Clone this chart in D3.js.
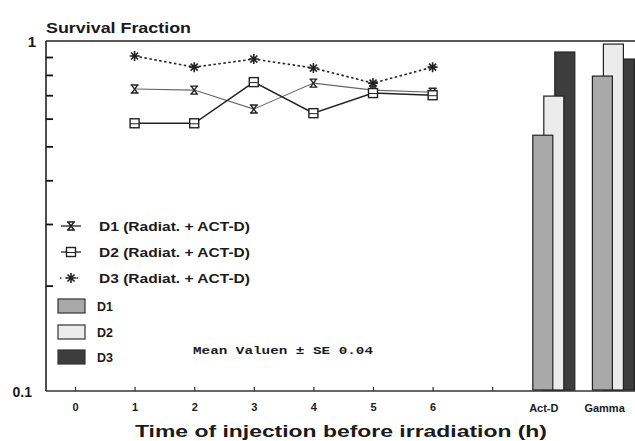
<!DOCTYPE html>
<html><head><meta charset="utf-8">
<script src="https://cdn.jsdelivr.net/npm/d3@7"></script>
<style>body{margin:0;background:#fff}svg{display:block}text{font-family:"Liberation Sans",Arial,sans-serif;font-weight:bold;fill:#1a1a1a}</style>
</head><body><svg id="c" width="635" height="441"></svg>
<script>
const hours = [1, 2, 3, 4, 5, 6];
const xTickLabels = ["0", "1", "2", "3", "4", "5", "6", ""];
const d1Line = [0.729, 0.724, 0.639, 0.758, 0.724, 0.714];
const d2Line = [0.582, 0.582, 0.763, 0.622, 0.710, 0.700];
const d3Line = [0.906, 0.842, 0.888, 0.837, 0.758, 0.842];
const barGroups = ["Act-D", "Gamma"];
const barD1 = [0.538, 0.794];
const barD2 = [0.696, 0.980];
const barD3 = [0.930, 0.888];
const yTicks = [0.2, 0.3, 0.4, 0.5, 0.6, 0.7, 0.8, 0.9];

const svg = d3.select("#c");
const x = d3.scaleLinear().domain([0, 9]).range([75, 611.4]);
const y = d3.scaleLog().domain([0.1, 1]).range([391, 41]);

// frame
svg.append("line").attr("x1",46).attr("x2",635).attr("y1",41).attr("y2",41).attr("stroke","#222").attr("stroke-width",1.6);
// bottom axis
const xAxis = d3.axisBottom(x).tickValues(d3.range(0, 8)).tickSize(-4).tickFormat(d => xTickLabels[d]);
const gx = svg.append("g").attr("transform","translate(0,391)").call(xAxis);
gx.select(".domain").attr("d","M46,0H635").attr("stroke","#333").attr("stroke-width",1.4);
gx.selectAll(".tick line").attr("stroke","#333").attr("stroke-width",1.2);
gx.selectAll(".tick text").attr("y",12).attr("dy","0.71em").style("font-size","11px").style("font-family","Liberation Sans, Arial").style("font-weight","bold").attr("fill","#1a1a1a");
// left axis
const yAxis = d3.axisRight(y).tickValues(yTicks).tickSize(7).tickFormat("");
const gy = svg.append("g").attr("transform","translate(46,0)").call(yAxis);
gy.select(".domain").attr("d","M0,41V391").attr("stroke","#222").attr("stroke-width",1.6);
gy.selectAll(".tick line").attr("stroke","#111").attr("stroke-width",1.8);
svg.append("text").attr("x",36).attr("y",y(1)+6).attr("text-anchor","end").style("font-size","15px").text("1");
svg.append("text").attr("x",32).attr("y",y(0.1)+6).attr("text-anchor","end").style("font-size","14px").text("0.1");

// bars
const fills = ["#a9a9a9", "#ececec", "#3d3d3d"];
const barSets = [barD3, barD2, barD1];
const offsets = [3, -8, -19];
const fillIdx = [2, 1, 0];
barSets.forEach((vals, k) => {
  svg.selectAll(null).data(vals).join("rect")
    .attr("x", (d, i) => x(8 + i) + offsets[k])
    .attr("y", d => y(d))
    .attr("width", 20)
    .attr("height", d => y(0.1) - y(d) - 1)
    .attr("fill", fills[fillIdx[k]])
    .attr("stroke", "#222").attr("stroke-width", 1.2);
});
svg.selectAll(null).data(barGroups).join("text")
  .attr("x", (d, i) => i === 0 ? x(8) - 8 : x(9) - 27)
  .attr("y", 412).attr("text-anchor", (d, i) => i === 0 ? "middle" : "start")
  .style("font-size","11px").text(d => d);

// lines
const line = d3.line().x((d, i) => x(hours[i])).y(d => y(d));
svg.append("path").attr("d", line(d1Line)).attr("fill","none").attr("stroke","#666").attr("stroke-width",1.1);
svg.append("path").attr("d", line(d2Line)).attr("fill","none").attr("stroke","#222").attr("stroke-width",1.5);
svg.append("path").attr("d", line(d3Line)).attr("fill","none").attr("stroke","#222").attr("stroke-width",1.6).attr("stroke-dasharray","2.5,2.5");

function hourglass(g, cx, cy) {
  g.append("path").attr("d", `M${cx-4},${cy-4}H${cx+4}M${cx-4},${cy+4}H${cx+4}M${cx-3},${cy-4}L${cx+3},${cy+4}M${cx+3},${cy-4}L${cx-3},${cy+4}`)
    .attr("stroke","#222").attr("stroke-width",1.4).attr("fill","none");
}
function square(g, cx, cy) {
  g.append("rect").attr("x",cx-4.5).attr("y",cy-4.5).attr("width",9).attr("height",9).attr("fill","#fff").attr("stroke","#222").attr("stroke-width",1.4);
  g.append("line").attr("x1",cx-4.5).attr("x2",cx+4.5).attr("y1",cy+0.5).attr("y2",cy+0.5).attr("stroke","#222").attr("stroke-width",1);
}
function star(g, cx, cy) {
  let p = "";
  for (let a = 0; a < 4; a++) {
    const t = a * Math.PI / 4;
    p += `M${cx - 5*Math.cos(t)},${cy - 5*Math.sin(t)}L${cx + 5*Math.cos(t)},${cy + 5*Math.sin(t)}`;
  }
  g.append("path").attr("d", p).attr("stroke","#222").attr("stroke-width",1.6);
}
const mg = svg.append("g");
d3.zip(hours, d1Line).forEach(([h, v]) => hourglass(mg, x(h), y(v)));
d3.zip(hours, d2Line).forEach(([h, v]) => square(mg, x(h), y(v)));
d3.zip(hours, d3Line).forEach(([h, v]) => star(mg, x(h), y(v)));

// legend
const lg = svg.append("g");
const legLines = [
  {label:"D1 (Radiat. + ACT-D)", y:226, kind:"hg"},
  {label:"D2 (Radiat. + ACT-D)", y:252, kind:"sq"},
  {label:"D3 (Radiat. + ACT-D)", y:278, kind:"st"}
];
legLines.forEach(d => {
  if (d.kind === "st") {
    lg.append("line").attr("x1",60).attr("x2",82).attr("y1",d.y).attr("y2",d.y).attr("stroke","#222").attr("stroke-width",1.4).attr("stroke-dasharray","1.5,4");
    star(lg, 71, d.y);
  } else {
    lg.append("line").attr("x1",61).attr("x2",81).attr("y1",d.y).attr("y2",d.y).attr("stroke","#222").attr("stroke-width",1.3);
    if (d.kind === "hg") hourglass(lg, 71, d.y); else square(lg, 71, d.y);
  }
  lg.append("text").attr("x",99).attr("y",d.y+5).attr("textLength",151).attr("lengthAdjust","spacingAndGlyphs").style("font-size","12.5px").text(d.label);
});
const legBars = [{label:"D1", y:306, f:0},{label:"D2", y:332, f:1},{label:"D3", y:357, f:2}];
legBars.forEach(d => {
  lg.append("rect").attr("x",58).attr("y",d.y-7).attr("width",27).attr("height",14).attr("fill",fills[d.f]).attr("stroke","#333").attr("stroke-width",1.2);
  lg.append("text").attr("x",97).attr("y",d.y+5).style("font-size","12.5px").text(d.label);
});
svg.append("text").attr("x",193).attr("y",354).attr("textLength",180).attr("lengthAdjust","spacingAndGlyphs")
  .style("font-family","Liberation Mono, monospace").style("font-size","10px").text("Mean Valuen \u00B1 SE  0.04");

// titles
svg.append("text").attr("x",46).attr("y",33).attr("textLength",145).attr("lengthAdjust","spacingAndGlyphs").style("font-size","15.5px").text("Survival Fraction");
svg.append("text").attr("x",341).attr("y",437).attr("text-anchor","middle").attr("textLength",412).attr("lengthAdjust","spacingAndGlyphs").style("font-size","17px").text("Time of injection before irradiation (h)");
</script></body></html>
